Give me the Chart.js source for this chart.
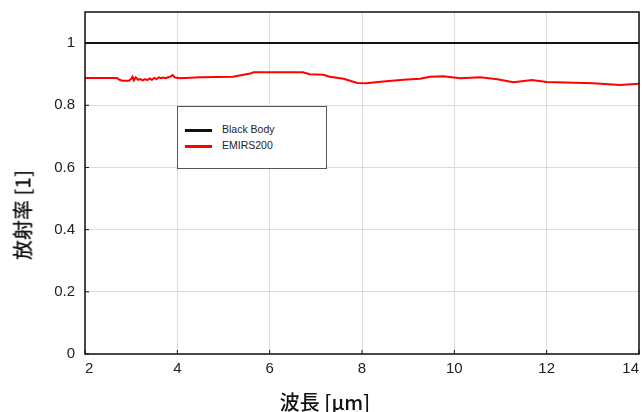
<!DOCTYPE html>
<html>
<head>
<meta charset="utf-8">
<script src="https://cdn.jsdelivr.net/npm/chart.js@4/dist/chart.umd.min.js"></script>
<style>
  body { margin: 0; background: #fff; }
  #wrap { position: relative; width: 642px; height: 412px; }
  .title { position: absolute; font-family: "Noto Sans CJK JP", sans-serif; font-size: 20px; font-weight: 500; color: #111; white-space: nowrap; }
  #ytitle { left: 22px; top: 215px; transform: translate(-50%, -50%) rotate(-90deg); }
  #xtitle { left: 325px; top: 401px; transform: translate(-50%, -50%); }
  #legend { position: absolute; left: 177px; top: 106px; width: 148px; height: 61px; border: 1px solid #555; background: #fff;
            font-family: "Liberation Sans", Arial, sans-serif; font-size: 10.5px; color: #222; }
  .row { position: absolute; left: 7px; height: 12px; }
  .sw { position: absolute; left: 0; top: 5px; width: 27px; height: 3px; }
  .lbl { position: absolute; left: 37px; top: -1px; white-space: nowrap; }
</style>
</head>
<body>
<div id="wrap">
  <canvas id="myChart" width="642" height="412"></canvas>
  <div id="ytitle" class="title">放射率 [1]</div>
  <div id="xtitle" class="title">波長 [µm]</div>
  <div id="legend"></div>
</div>
<script>
const wavelengths = [2.0, 2.69, 2.75, 2.8, 2.95, 3.0, 3.03, 3.06, 3.1, 3.15, 3.2, 3.25, 3.3, 3.35, 3.4, 3.45, 3.5, 3.55, 3.6,
  3.65, 3.7, 3.75, 3.8, 3.85, 3.9, 3.95, 4.06, 4.5, 5.2, 5.58, 5.65, 6.72, 6.87, 7.16, 7.3, 7.6, 7.9, 8.1, 8.4, 8.9, 9.26,
  9.47, 9.76, 10.13, 10.56, 10.93, 11.28, 11.68, 12.0, 13.0, 13.59, 14.0];
const emirsValues = [0.888, 0.888, 0.882, 0.879, 0.879, 0.885, 0.892, 0.880, 0.890, 0.882, 0.884, 0.880, 0.884, 0.881, 0.886,
  0.882, 0.888, 0.884, 0.890, 0.887, 0.889, 0.887, 0.890, 0.892, 0.897, 0.889, 0.887, 0.890, 0.892, 0.902, 0.906, 0.906,
  0.900, 0.898, 0.892, 0.885, 0.872, 0.871, 0.876, 0.882, 0.885, 0.892, 0.893, 0.887, 0.890, 0.884, 0.874, 0.881, 0.875,
  0.871, 0.865, 0.869];
const blackBodyX = [2, 14];
const blackBodyValues = [1, 1];
const seriesNames = ["Black Body", "EMIRS200"];
const seriesColors = ["#111111", "#ff0000"];

// legend box
const legend = document.getElementById("legend");
seriesNames.forEach((name, i) => {
  const row = document.createElement("div");
  row.className = "row";
  row.style.top = (17 + i * 16) + "px";
  row.innerHTML = '<div class="sw" style="background:' + seriesColors[i] + '"></div><div class="lbl">' + name + "</div>";
  legend.appendChild(row);
});

// outer frame and small inside ticks
const framePlugin = {
  id: "frame",
  afterDraw(chart) {
    const { ctx, chartArea: a, scales } = chart;
    ctx.save();
    ctx.strokeStyle = "#111";
    ctx.lineWidth = 1.5;
    ctx.strokeRect(a.left, a.top, a.right - a.left, a.bottom - a.top);
    ctx.lineWidth = 1;
    scales.x.ticks.forEach(t => {
      const px = scales.x.getPixelForValue(t.value);
      ctx.beginPath(); ctx.moveTo(px, a.bottom); ctx.lineTo(px, a.bottom - 4); ctx.stroke();
    });
    scales.y.ticks.forEach(t => {
      const py = scales.y.getPixelForValue(t.value);
      ctx.beginPath(); ctx.moveTo(a.left, py); ctx.lineTo(a.left + 4, py); ctx.stroke();
    });
    ctx.restore();
  }
};

const tickFont = { family: "'Liberation Sans', Arial, sans-serif", size: 15 };

new Chart(document.getElementById("myChart"), {
  type: "line",
  data: {
    datasets: [
      {
        label: seriesNames[0],
        data: blackBodyX.map((x, i) => ({ x: x, y: blackBodyValues[i] })),
        borderColor: seriesColors[0],
        borderWidth: 2,
        pointRadius: 0
      },
      {
        label: seriesNames[1],
        data: wavelengths.map((x, i) => ({ x: x, y: emirsValues[i] })),
        borderColor: seriesColors[1],
        borderWidth: 2,
        pointRadius: 0
      }
    ]
  },
  options: {
    responsive: false,
    animation: false,
    layout: { padding: { top: 12, right: 3, left: 0, bottom: 0 } },
    plugins: { legend: { display: false }, tooltip: { enabled: false } },
    scales: {
      x: {
        type: "linear",
        min: 2,
        max: 14,
        ticks: { stepSize: 2, font: tickFont, color: "#222", padding: 6, align: "inner", maxRotation: 0 },
        grid: { color: "#dcdcdc", drawTicks: false },
        border: { display: false },
        afterFit: s => { s.height = 58; s.paddingLeft = 0; s.paddingRight = 0; }
      },
      y: {
        min: 0,
        max: 1.1,
        afterBuildTicks: s => { s.ticks = s.ticks.filter(t => t.value <= 1.0001); },
        ticks: {
          stepSize: 0.2,
          font: tickFont,
          color: "#222",
          padding: 10,
          callback: v => String(Number(v.toFixed(1)))
        },
        grid: { color: "#dcdcdc", drawTicks: false },
        border: { display: false },
        afterFit: s => { s.width = 85; s.paddingTop = 0; s.paddingBottom = 0; }
      }
    }
  },
  plugins: [framePlugin]
});
</script>
</body>
</html>
